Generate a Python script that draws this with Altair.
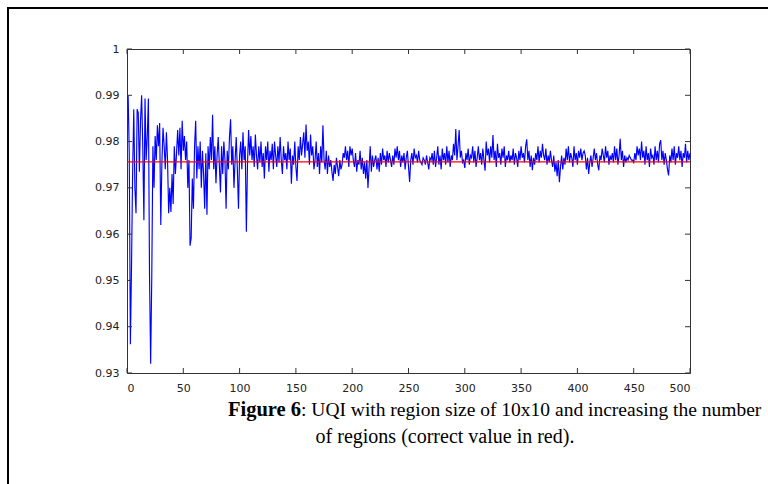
import altair as alt
import pandas as pd

uqi = [
0.9900, 0.9775, 0.9362, 0.9528, 0.9735, 0.9870, 0.9700, 0.9645, 0.9870, 0.9862,
0.9735, 0.9845, 0.9900, 0.9790, 0.9630, 0.9893, 0.9760, 0.9810, 0.9893, 0.9512,
0.9320, 0.9508, 0.9790, 0.9700, 0.9812, 0.9760, 0.9835, 0.9790, 0.9840, 0.9620,
0.9755, 0.9830, 0.9790, 0.9740, 0.9820, 0.9760, 0.9645, 0.9700, 0.9648, 0.9730,
0.9665, 0.9790, 0.9730, 0.9775, 0.9825, 0.9770, 0.9830, 0.9740, 0.9845, 0.9780,
0.9812, 0.9760, 0.9800, 0.9700, 0.9760, 0.9575, 0.9592, 0.9720, 0.9655, 0.9790,
0.9845, 0.9720, 0.9790, 0.9740, 0.9800, 0.9700, 0.9780, 0.9730, 0.9655, 0.9775,
0.9642, 0.9790, 0.9740, 0.9810, 0.9760, 0.9858, 0.9740, 0.9790, 0.9710, 0.9770,
0.9810, 0.9750, 0.9690, 0.9790, 0.9730, 0.9800, 0.9760, 0.9655, 0.9780, 0.9740,
0.9810, 0.9848, 0.9750, 0.9790, 0.9700, 0.9760, 0.9810, 0.9740, 0.9655, 0.9770,
0.9800, 0.9740, 0.9820, 0.9760, 0.9790, 0.9605, 0.9750, 0.9825, 0.9770, 0.9812,
0.9760, 0.9790, 0.9745, 0.9815, 0.9770, 0.9740, 0.9790, 0.9755, 0.9800, 0.9745,
0.9775, 0.9720, 0.9790, 0.9760, 0.9800, 0.9735, 0.9780, 0.9760, 0.9795, 0.9740,
0.9800, 0.9770, 0.9745, 0.9790, 0.9755, 0.9810, 0.9760, 0.9730, 0.9790, 0.9760,
0.9775, 0.9740, 0.9800, 0.9760, 0.9785, 0.9709, 0.9770, 0.9750, 0.9800, 0.9745,
0.9715, 0.9790, 0.9760, 0.9810, 0.9770, 0.9795, 0.9820, 0.9765, 0.9837, 0.9780,
0.9800, 0.9750, 0.9815, 0.9770, 0.9790, 0.9740, 0.9760, 0.9800, 0.9745, 0.9775,
0.9730, 0.9790, 0.9755, 0.9835, 0.9760, 0.9740, 0.9780, 0.9730, 0.9770, 0.9745,
0.9760, 0.9735, 0.9715, 0.9750, 0.9730, 0.9765, 0.9745, 0.9725, 0.9760, 0.9740,
0.9750, 0.9775, 0.9765, 0.9790, 0.9760, 0.9780, 0.9745, 0.9790, 0.9770, 0.9785,
0.9760, 0.9745, 0.9775, 0.9735, 0.9760, 0.9750, 0.9780, 0.9740, 0.9765, 0.9730,
0.9755, 0.9720, 0.9760, 0.9700, 0.9745, 0.9790, 0.9735, 0.9770, 0.9745, 0.9760,
0.9770, 0.9740, 0.9765, 0.9735, 0.9775, 0.9750, 0.9785, 0.9760, 0.9770, 0.9745,
0.9780, 0.9755, 0.9775, 0.9760, 0.9745, 0.9770, 0.9750, 0.9785, 0.9765, 0.9790,
0.9760, 0.9780, 0.9745, 0.9770, 0.9755, 0.9775, 0.9740, 0.9765, 0.9780, 0.9745,
0.9713, 0.9760, 0.9775, 0.9750, 0.9785, 0.9765, 0.9770, 0.9755, 0.9780, 0.9760,
0.9755, 0.9750, 0.9765, 0.9760, 0.9750, 0.9770, 0.9755, 0.9740, 0.9765, 0.9760,
0.9775, 0.9750, 0.9780, 0.9745, 0.9765, 0.9790, 0.9750, 0.9770, 0.9740, 0.9785,
0.9760, 0.9775, 0.9750, 0.9790, 0.9755, 0.9780, 0.9745, 0.9770, 0.9760, 0.9795,
0.9770, 0.9827, 0.9760, 0.9790, 0.9825, 0.9765, 0.9780, 0.9755, 0.9760, 0.9743,
0.9775, 0.9760, 0.9785, 0.9750, 0.9770, 0.9765, 0.9790, 0.9755, 0.9780, 0.9745,
0.9765, 0.9790, 0.9760, 0.9775, 0.9750, 0.9785, 0.9760, 0.9737, 0.9800, 0.9770,
0.9785, 0.9755, 0.9790, 0.9765, 0.9814, 0.9760, 0.9780, 0.9745, 0.9795, 0.9765,
0.9775, 0.9750, 0.9785, 0.9765, 0.9790, 0.9745, 0.9770, 0.9760, 0.9780, 0.9755,
0.9770, 0.9760, 0.9785, 0.9750, 0.9775, 0.9765, 0.9745, 0.9780, 0.9760, 0.9790,
0.9765, 0.9775, 0.9755, 0.9790, 0.9805, 0.9760, 0.9780, 0.9745, 0.9770, 0.9738,
0.9765, 0.9750, 0.9775, 0.9760, 0.9790, 0.9755, 0.9780, 0.9765, 0.9795, 0.9770,
0.9760, 0.9785, 0.9750, 0.9770, 0.9755, 0.9780, 0.9760, 0.9745, 0.9770, 0.9735,
0.9755, 0.9725, 0.9760, 0.9712, 0.9745, 0.9770, 0.9740, 0.9765, 0.9750, 0.9785,
0.9760, 0.9790, 0.9755, 0.9775, 0.9765, 0.9745, 0.9790, 0.9760, 0.9775, 0.9750,
0.9780, 0.9765, 0.9785, 0.9760, 0.9775, 0.9780, 0.9770, 0.9740, 0.9765, 0.9730,
0.9755, 0.9770, 0.9745, 0.9765, 0.9785, 0.9760, 0.9775, 0.9750, 0.9738, 0.9770,
0.9760, 0.9785, 0.9770, 0.9755, 0.9790, 0.9765, 0.9780, 0.9750, 0.9770, 0.9760,
0.9775, 0.9755, 0.9790, 0.9760, 0.9785, 0.9750, 0.9770, 0.9806, 0.9760, 0.9780,
0.9745, 0.9770, 0.9755, 0.9765, 0.9760, 0.9770, 0.9765, 0.9760, 0.9760, 0.9755,
0.9775, 0.9760, 0.9790, 0.9770, 0.9785, 0.9760, 0.9800, 0.9765, 0.9780, 0.9750,
0.9790, 0.9760, 0.9775, 0.9745, 0.9785, 0.9765, 0.9770, 0.9750, 0.9790, 0.9760,
0.9780, 0.9755, 0.9795, 0.9803, 0.9760, 0.9780, 0.9750, 0.9775, 0.9760, 0.9740,
0.9727, 0.9770, 0.9755, 0.9785, 0.9760, 0.9790, 0.9750, 0.9775, 0.9765, 0.9790,
0.9760, 0.9780, 0.9745, 0.9775, 0.9765, 0.9795, 0.9755, 0.9780, 0.9760, 0.9775,
]
regions = list(range(1, len(uqi) + 1))
correct_value = 0.9756

x_ticks = [0, 50, 100, 150, 200, 250, 300, 350, 400, 450, 500]
y_ticks = [0.93, 0.94, 0.95, 0.96, 0.97, 0.98, 0.99, 1.0]

caption_bold = "Figure 6"
caption_rest = ": UQI with region size of 10x10 and increasing the number"
caption_line2 = "of regions (correct value in red)."

W, H = 563, 324
xs = alt.Scale(domain=[0, 500], nice=False, zero=False)
ys = alt.Scale(domain=[0.93, 1.0], nice=False, zero=False)
axis_color = "#333333"
lab_font = "DejaVu Sans"

df = pd.DataFrame({"n": regions, "q": uqi})

line = alt.Chart(df).mark_line(color="#0000FF", strokeWidth=1.15).encode(
    x=alt.X("n:Q", scale=xs, axis=alt.Axis(values=x_ticks, title=None, grid=False, domain=False,
                                           ticks=False, labelPadding=9, labelFont=lab_font,
                                           labelFontSize=11, labelColor="#222222", format="d")),
    y=alt.Y("q:Q", scale=ys, axis=alt.Axis(values=y_ticks, title=None, grid=False, domain=False,
                                           ticks=False, labelPadding=8, labelFont=lab_font,
                                           labelFontSize=11, labelColor="#222222", format="~g")),
)

red = alt.Chart(pd.DataFrame({"v": [correct_value]})).mark_rule(color="#FF0000", strokeWidth=1.3).encode(
    y=alt.Y("v:Q", scale=ys)
)

xt = pd.DataFrame({"t": x_ticks})
yt = pd.DataFrame({"t": y_ticks})
tick_bottom = alt.Chart(xt).mark_rule(color=axis_color).encode(
    x=alt.X("t:Q", scale=xs), y=alt.value(H), y2=alt.value(H - 5))
tick_top = alt.Chart(xt).mark_rule(color=axis_color).encode(
    x=alt.X("t:Q", scale=xs), y=alt.value(0), y2=alt.value(5))
tick_left = alt.Chart(yt).mark_rule(color=axis_color).encode(
    y=alt.Y("t:Q", scale=ys), x=alt.value(0), x2=alt.value(5))
tick_right = alt.Chart(yt).mark_rule(color=axis_color).encode(
    y=alt.Y("t:Q", scale=ys), x=alt.value(W), x2=alt.value(W - 5))

frame_left = alt.Chart(pd.DataFrame({"a": [0]})).mark_rule(color="black", strokeWidth=2).encode(
    x=alt.value(-119), y=alt.value(-42), y2=alt.value(500))
frame_top = alt.Chart(pd.DataFrame({"a": [0]})).mark_rule(color="black", strokeWidth=2).encode(
    x=alt.value(-120), x2=alt.value(700), y=alt.value(-41))

cap_df = pd.DataFrame({"a": [0]})
cap1 = alt.Chart(cap_df).mark_text(text=caption_bold, font="Liberation Serif", fontSize=20.5,
                                   fontWeight="bold", align="left", baseline="alphabetic",
                                   color="black").encode(x=alt.value(101), y=alt.value(367))
cap2 = alt.Chart(cap_df).mark_text(text=caption_rest, font="Liberation Serif", fontSize=19.5,
                                   align="left", baseline="alphabetic",
                                   color="black").encode(x=alt.value(174), y=alt.value(367))
cap3 = alt.Chart(cap_df).mark_text(text=caption_line2, font="Liberation Serif", fontSize=20,
                                   align="center", baseline="alphabetic",
                                   color="black").encode(x=alt.value(318), y=alt.value(394))

chart = alt.layer(
    line, red, tick_bottom, tick_top, tick_left, tick_right, frame_left, frame_top, cap1, cap2, cap3
).properties(
    width=W, height=H,
    autosize=alt.AutoSizeParams(type="none"),
    padding={"left": 127, "top": 49, "right": 78, "bottom": 111},
    background="white",
).configure_view(stroke=axis_color, strokeWidth=1)

chart.save("out.html", embed_options={"renderer": "svg", "actions": False})
